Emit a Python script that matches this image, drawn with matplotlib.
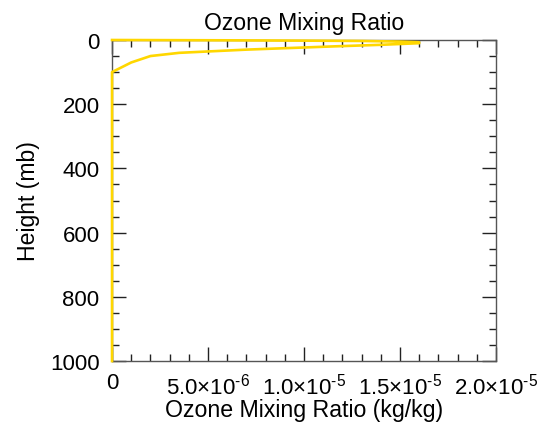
import matplotlib
matplotlib.use('Agg')
import matplotlib.pyplot as plt
import numpy as np

plt.rcParams['font.family'] = 'Liberation Sans'
plt.rcParams['mathtext.fontset'] = 'custom'
plt.rcParams['mathtext.rm'] = 'Liberation Sans'
plt.rcParams['mathtext.it'] = 'Liberation Sans:italic'
plt.rcParams['mathtext.bf'] = 'Liberation Sans:bold'

# ozone profile: pressure level (mb) and mixing ratio (kg/kg)
pressure = [1000, 925, 850, 700, 500, 400, 300, 250, 200, 150, 100, 70, 50, 40, 30, 20, 15, 10, 7, 5, 3, 2, 1, 0]
ozone = [0, 0, 0, 0, 0, 0, 0, 0, 0, 0, 0, 1.0e-6, 2.0e-6, 3.5e-6, 7.0e-6, 1.15e-5, 1.4e-5, 1.6e-5,
         1.6e-5, 1.5e-5, 1.3e-5, 1.0e-5, 6.0e-6, 0]

xticks = [0, 5e-6, 1e-5, 1.5e-5, 2e-5]
xticklabels = ['0', r'5.0×10$^{\text{-6}}$', r'1.0×10$^{\text{-5}}$',
               r'1.5×10$^{\text{-5}}$', r'2.0×10$^{\text{-5}}$']
yticks = [0, 200, 400, 600, 800, 1000]

fig = plt.figure(figsize=(5.47, 4.27), dpi=100)
ax = fig.add_axes([0.2048, 0.152, 0.702, 0.752])

ax.plot(ozone, pressure, color='#FFD700', lw=1.9, solid_joinstyle='round', clip_on=False, zorder=3)

ax.set_xlim(0, 2e-5)
ax.set_ylim(1000, 0)
ax.set_xticks(xticks)
ax.set_xticklabels(xticklabels)
ax.set_xticks(np.arange(0, 2.01e-5, 1e-6), minor=True)
ax.set_yticks(yticks)
ax.set_yticks(np.arange(0, 1001, 50), minor=True)

ax.tick_params(which='both', direction='in', top=True, right=True, color='#222222', width=1.0)
ax.tick_params(which='major', length=10, labelsize=16)
ax.tick_params(which='minor', length=5)
ax.tick_params(axis='x', pad=8)
ax.tick_params(axis='y', pad=9)
for s in ax.spines.values():
    s.set_color('#555555')
    s.set_linewidth(1.0)

ax.set_title('Ozone Mixing Ratio', fontsize=16.6, pad=8)
ax.set_xlabel('Ozone Mixing Ratio (kg/kg)', fontsize=16.7, labelpad=0)
ax.set_ylabel('Height (mb)', fontsize=16.6, labelpad=7)

fig.savefig('out.png', dpi=100)
